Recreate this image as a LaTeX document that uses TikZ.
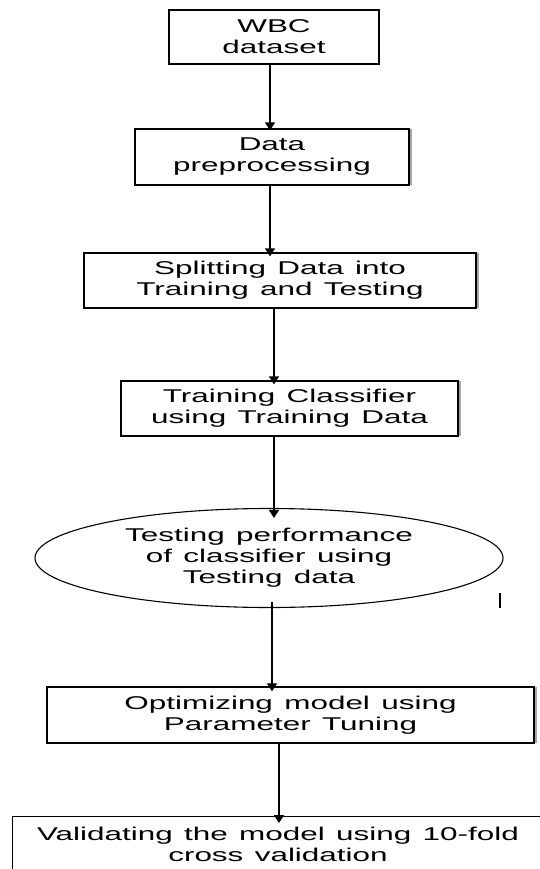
\documentclass[tikz,border=0pt]{standalone}
\usepackage{fontspec}
\newfontfamily\df[FakeStretch=1.7,WordSpace=1.3]{Liberation Sans}
\usetikzlibrary{arrows.meta,shadows,shapes.geometric}
\tikzset{
  txt/.style={font=\df\fontsize{18.5}{21}\selectfont, align=center, inner sep=0pt, text=black},
  flowbox/.style={txt, draw, line width=1.3pt, rectangle, fill=white},
  shbox/.style={flowbox, general shadow={fill=gray!70, shadow xshift=2.5pt, shadow yshift=0pt}},
  flowell/.style={txt, draw, line width=1.1pt, ellipse, inner sep=0pt},
  arr/.style={line width=1.6pt, -{Triangle[width=10pt,length=8pt]}}
}
\begin{document}
\begin{tikzpicture}[x=1pt,y=-1pt]
\useasboundingbox (0,0) rectangle (540,869);
\begin{scope}
\clip (0,0) rectangle (540,869);
\fill[white] (0,0) rectangle (540,869);
\node[flowbox, minimum width=210, minimum height=54] (b1) at (274,37) {WBC\\dataset};
\node[shbox, minimum width=274, minimum height=56] (b2) at (272,157) {Data\\preprocessing};
\node[shbox, minimum width=392, minimum height=55] (b3) at (280,280.5) {Splitting Data into\\Training and Testing};
\node[shbox, minimum width=337, minimum height=55] (b4) at (289.5,408.5) {Training Classifier\\using Training Data};
\node[flowell, minimum width=468, minimum height=99] (e5) at (269,558) {Testing performance\\of classifier using\\Testing data};
\node[shbox, minimum width=487, minimum height=56] (b6) at (290.5,715) {Optimizing model using\\Parameter Tuning};
\node[flowbox, anchor=north west, minimum width=600, minimum height=90] (b7) at (11.5,816) {};
\node[txt] (t7) at (278,844) {Validating the model using 10-fold\\cross validation};
\coordinate (mk1) at (500,593);
\coordinate (mk2) at (500,608);
\draw[line width=1.6pt] (mk1) -- (mk2);
\draw[arr] (b1.south -| 270,0) -- ([yshift=-2pt]b2.north -| 270,0);
\draw[arr] (b2.south -| 270,0) -- ([yshift=-4pt]b3.north -| 270,0);
\draw[arr] (b3.south -| 274,0) -- ([yshift=-4pt]b4.north -| 274,0);
\draw[arr] (b4.south -| 274,0) -- ([yshift=-10pt]e5.north -| 274,0);
\draw[arr] ([yshift=6pt]e5.south -| 272,0) -- ([yshift=-5pt]b6.north -| 272,0);
\draw[arr] (b6.south -| 279,0) -- ([yshift=-7pt]b7.north -| 279,0);
\end{scope}
\end{tikzpicture}
\end{document}
